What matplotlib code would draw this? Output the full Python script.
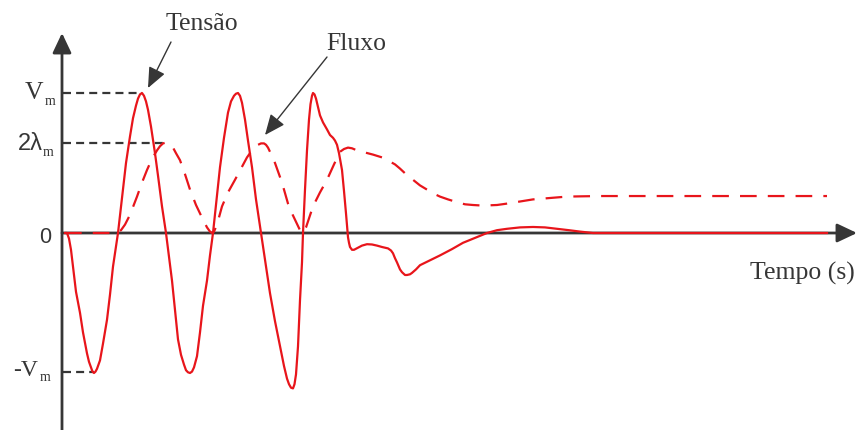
import matplotlib
matplotlib.use("Agg")
import matplotlib.pyplot as plt

# time axis in arbitrary units, amplitudes normalised to Vm = 1
tensao_t = [3, 5, 7, 9, 11, 14, 18, 21, 25, 27, 29, 30.5, 32, 33.5, 35, 38, 41, 45, 48, 51,
            56, 61, 64, 68, 71, 74, 76, 78, 80, 82, 84, 86, 89, 93, 96, 100, 104, 110, 113,
            116, 119, 122, 124, 126, 128, 130, 132, 135, 138, 141, 145, 148, 151, 154, 158,
            162, 166, 169, 172, 174, 176, 178, 180, 183, 186, 190, 194, 199, 204, 208, 213,
            218, 222, 225, 227, 229, 231, 232.5, 234, 236, 238, 240, 241, 243, 245, 247,
            248.5, 250, 251, 252.5, 254, 256, 258, 261, 265, 268, 271, 273, 275, 277, 280,
            282, 284, 286, 287, 288, 290, 292, 296, 300, 305, 310, 315, 320, 326, 329, 331,
            333, 335, 338, 340, 343, 345, 348, 350, 354, 358, 368, 378, 390, 401, 413, 425,
            435, 445, 458, 471, 483, 495, 507, 518, 531, 765]
tensao_v = [0, 0, -0.04, -0.12, -0.24, -0.42, -0.57, -0.71, -0.86, -0.92, -0.96, -0.99, -1.0,
            -0.99, -0.97, -0.91, -0.79, -0.62, -0.44, -0.24, 0, 0.31, 0.5, 0.69, 0.82, 0.91,
            0.96, 0.99, 1.0, 0.98, 0.94, 0.88, 0.76, 0.57, 0.41, 0.19, 0, -0.34, -0.55,
            -0.76, -0.87, -0.94, -0.98, -0.995, -1.0, -0.99, -0.96, -0.88, -0.71, -0.52,
            -0.34, -0.16, 0, 0.2, 0.47, 0.68, 0.86, 0.94, 0.98, 0.995, 1.0, 0.98, 0.93, 0.81,
            0.66, 0.47, 0.24, 0, -0.24, -0.43, -0.63, -0.81, -0.95, -1.04, -1.08, -1.105,
            -1.11, -1.08, -1.01, -0.81, -0.48, -0.21, 0, 0.31, 0.59, 0.81, 0.92, 0.98, 1.0,
            0.99, 0.96, 0.9, 0.84, 0.79, 0.74, 0.7, 0.68, 0.66, 0.63, 0.57, 0.45, 0.3, 0.14,
            -0.03, -0.07, -0.1, -0.12, -0.12, -0.105, -0.09, -0.08, -0.082, -0.09, -0.1,
            -0.11, -0.125, -0.145, -0.18, -0.21, -0.26, -0.28, -0.3, -0.3, -0.295, -0.285,
            -0.26, -0.23, -0.195, -0.16, -0.115, -0.07, -0.035, 0, 0.02, 0.03, 0.04, 0.043,
            0.04, 0.03, 0.02, 0.01, 0, 0]

fluxo_t = [3, 53, 56, 59, 63, 68, 75, 80, 85, 90, 95, 98, 101, 103.5, 106, 108.5, 111, 114,
           118, 123, 128, 134, 140, 145, 148, 150, 152, 155, 160, 166, 173, 179, 185, 189,
           193, 196, 199, 202, 204, 206, 208, 213, 218, 222, 226, 230, 234, 238, 241, 244,
           251, 258, 265, 272, 278, 282, 286, 290, 295, 303, 311, 320, 328, 333, 338, 344,
           351, 358, 365, 372, 378, 386, 395, 403, 411, 418, 425, 435, 445, 458, 471, 488,
           505, 520, 538, 765]
fluxo_v = [0, 0, 0.005, 0.02, 0.06, 0.13, 0.26, 0.36, 0.45, 0.53, 0.59, 0.62, 0.64, 0.645,
           0.64, 0.63, 0.61, 0.57, 0.52, 0.42, 0.31, 0.2, 0.11, 0.04, 0.01, 0, 0.01, 0.06,
           0.19, 0.29, 0.38, 0.46, 0.54, 0.58, 0.61, 0.63, 0.64, 0.64, 0.63, 0.61, 0.58, 0.5,
           0.4, 0.31, 0.21, 0.14, 0.08, 0.02, 0, 0.04, 0.19, 0.29, 0.38, 0.49, 0.58, 0.6,
           0.61, 0.605, 0.59, 0.575, 0.56, 0.54, 0.51, 0.49, 0.46, 0.42, 0.38, 0.34, 0.31,
           0.28, 0.26, 0.24, 0.22, 0.205, 0.2, 0.197, 0.197, 0.2, 0.21, 0.225, 0.24, 0.25,
           0.26, 0.262, 0.264, 0.264]

vm = 1.0
lam2 = 0.64
vm_neg = -0.99

red = "#e8151b"
dark = "#363636"
serif = "Liberation Serif"
sans = "Liberation Sans"


def px(x, y):
    # layout helper: picture pixels -> data coordinates
    return x - 62, (233 - y) / 140


fig = plt.figure(figsize=(8.58, 4.30), dpi=100)
ax = fig.add_axes([0, 0, 1, 1])
ax.set_xlim(-62, 796)
ax.set_ylim((233 - 430) / 140, 233 / 140)
ax.axis("off")

# axes with arrow heads
head = dict(arrowstyle="-|>,head_length=0.55,head_width=0.26", mutation_scale=22,
            lw=2.0, color=dark, shrinkA=0, shrinkB=0)
ax.annotate("", xy=px(62, 33), xytext=px(62, 430), arrowprops=head)
ax.annotate("", xy=px(857, 233), xytext=px(62, 233), arrowprops=head)

# guide lines
ax.plot([1, 80], [vm, vm], color=dark, lw=1.6, dashes=(3.6, 2.3))
ax.plot([1, 105], [lam2, lam2], color=dark, lw=1.6, dashes=(3.6, 2.3))
ax.plot([1, 32], [vm_neg, vm_neg], color=dark, lw=1.6, dashes=(3.6, 2.3))

ax.plot(fluxo_t, fluxo_v, color=red, lw=1.6, dashes=(7.5, 5.0), zorder=3)
ax.plot(tensao_t, tensao_v, color=red, lw=1.6, zorder=4)

# y labels
ax.text(*px(43, 99), "V", family=serif, fontsize=18.5, ha="right", va="baseline", color=dark)
ax.text(*px(45, 105), "m", family=serif, fontsize=10, ha="left", va="baseline", color=dark)
ax.text(*px(43, 150), "2λ", family=sans, fontsize=17, ha="right", va="baseline", color=dark)
ax.text(*px(43, 156), "m", family=serif, fontsize=10, ha="left", va="baseline", color=dark)
ax.text(*px(51, 243), "0", family=sans, fontsize=15.5, ha="right", va="baseline", color=dark)
ax.text(*px(38, 376), "-V", family=serif, fontsize=17, ha="right", va="baseline", color=dark)
ax.text(*px(40, 381), "m", family=serif, fontsize=10, ha="left", va="baseline", color=dark)

# curve labels
thin = dict(arrowstyle="-|>,head_length=0.7,head_width=0.3", mutation_scale=18,
            lw=1.0, color=dark, shrinkA=0, shrinkB=0)
ax.text(*px(202, 30), "Tensão", family=serif, fontsize=18.5, ha="center", va="baseline", color=dark)
ax.annotate("", xy=px(148, 88), xytext=px(171, 42), arrowprops=thin)
ax.text(*px(356, 50), "Fluxo", family=serif, fontsize=18.5, ha="center", va="baseline", color=dark)
ax.annotate("", xy=px(265, 135), xytext=px(327, 57), arrowprops=thin)
ax.text(*px(855, 280), "Tempo (s)", family=serif, fontsize=18.5, ha="right", va="baseline", color=dark)

fig.savefig("out.png", dpi=100)
